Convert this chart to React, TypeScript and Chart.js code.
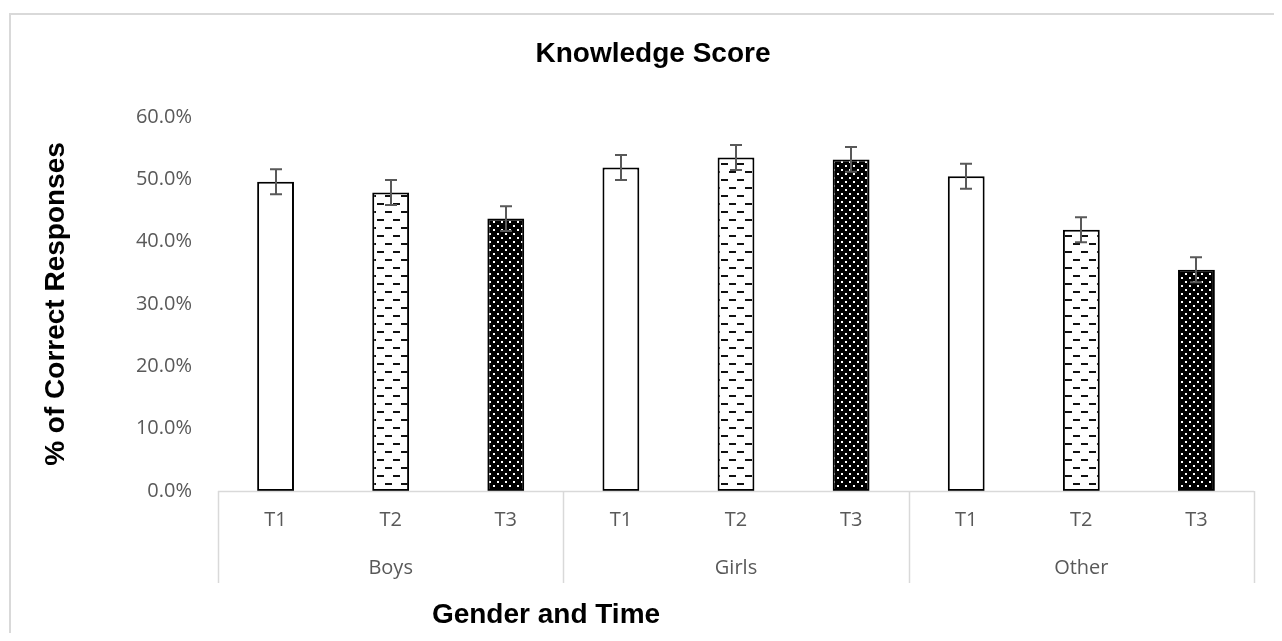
import React, { useEffect, useRef } from 'react';
import { Chart, registerables } from 'chart.js';
Chart.register(...registerables);

const groups = ['Boys', 'Girls', 'Other'];
const times = ['T1', 'T2', 'T3'];
const boysValues = [0.496, 0.479, 0.437];
const girlsValues = [0.519, 0.535, 0.532];
const otherValues = [0.505, 0.419, 0.355];
const boysErrors = [0.02, 0.02, 0.02];
const girlsErrors = [0.02, 0.02, 0.02];
const otherErrors = [0.02, 0.02, 0.02];
const chartTitle = 'Knowledge Score';
const yAxisTitle = '% of Correct Responses';
const xAxisTitle = 'Gender and Time';

const labels = groups.flatMap(() => times);
const values = [...boysValues, ...girlsValues, ...otherValues];
const errors = [...boysErrors, ...girlsErrors, ...otherErrors];

function makePattern(kind: string): any {
  const c = document.createElement('canvas');
  const ctx = c.getContext('2d')!;
  if (kind === 'dash') {
    c.width = 16; c.height = 16;
    ctx.fillStyle = '#ffffff';
    ctx.fillRect(0, 0, 16, 16);
    ctx.fillStyle = '#111111';
    ctx.fillRect(1, 3, 7, 2);
    ctx.fillRect(9, 11, 7, 2);
  } else if (kind === 'dots') {
    c.width = 8; c.height = 8;
    ctx.fillStyle = '#000000';
    ctx.fillRect(0, 0, 8, 8);
    ctx.fillStyle = '#ffffff';
    ctx.fillRect(1, 1, 2, 2);
    ctx.fillRect(5, 5, 2, 2);
  } else {
    c.width = 4; c.height = 4;
    ctx.fillStyle = '#ffffff';
    ctx.fillRect(0, 0, 4, 4);
  }
  return ctx.createPattern(c, 'repeat');
}

const TITLE_FONT = 'bold 28px "Liberation Sans", Arial, sans-serif';
const TICK_FONT = '20px "Open Sans", sans-serif';

const decoPlugin = {
  id: 'deco',
  beforeDraw(chart: any) {
    const ctx = chart.ctx;
    ctx.save();
    ctx.fillStyle = '#ffffff';
    ctx.fillRect(0, 0, chart.width, chart.height);
    ctx.strokeStyle = '#d9d9d9';
    ctx.lineWidth = 2;
    ctx.strokeRect(2, 6, chart.width + 20, chart.height + 20);
    ctx.restore();
  },
  afterDatasetsDraw(chart: any) {
    const ctx = chart.ctx;
    const meta = chart.getDatasetMeta(0);
    const y = chart.scales.y;
    ctx.save();
    ctx.strokeStyle = '#595959';
    ctx.lineWidth = 2;
    meta.data.forEach((bar: any, i: number) => {
      const v = values[i];
      const e = errors[i];
      const top = y.getPixelForValue(v + e);
      const bot = y.getPixelForValue(v - e);
      const x = Math.round(bar.x);
      ctx.beginPath();
      ctx.moveTo(x, top);
      ctx.lineTo(x, bot);
      ctx.moveTo(x - 6, top);
      ctx.lineTo(x + 6, top);
      ctx.moveTo(x - 6, bot);
      ctx.lineTo(x + 6, bot);
      ctx.stroke();
    });
    ctx.restore();
  },
  afterDraw(chart: any) {
    const ctx = chart.ctx;
    const area = chart.chartArea;
    const xs = chart.scales.x;
    ctx.save();
    // axis line and separators
    ctx.strokeStyle = '#d9d9d9';
    ctx.lineWidth = 1.5;
    ctx.beginPath();
    ctx.moveTo(area.left, area.bottom + 0.5);
    ctx.lineTo(area.right, area.bottom + 0.5);
    const bounds = [area.left];
    for (let g = 1; g < groups.length; g++) {
      const a = xs.getPixelForValue(g * times.length - 1);
      const b = xs.getPixelForValue(g * times.length);
      bounds.push((a + b) / 2);
    }
    bounds.push(area.right);
    bounds.forEach((bx) => {
      const px = Math.round(bx) + 0.5;
      ctx.moveTo(px, area.bottom);
      ctx.lineTo(px, area.bottom + 92);
    });
    ctx.stroke();

    // time labels
    ctx.fillStyle = '#595959';
    ctx.font = TICK_FONT;
    ctx.textAlign = 'center';
    ctx.textBaseline = 'middle';
    labels.forEach((lab, i) => {
      ctx.fillText(lab, xs.getPixelForValue(i), area.bottom + 29);
    });
    groups.forEach((g, gi) => {
      const cx = (bounds[gi] + bounds[gi + 1]) / 2;
      ctx.fillText(g, cx, area.bottom + 77);
    });

    // titles
    ctx.fillStyle = '#000000';
    ctx.font = TITLE_FONT;
    ctx.textAlign = 'center';
    ctx.textBaseline = 'alphabetic';
    ctx.fillText(chartTitle, 645, 54);
    ctx.fillText(xAxisTitle, 538, 615);
    ctx.save();
    ctx.translate(56, (area.top + area.bottom) / 2);
    ctx.rotate(-Math.PI / 2);
    ctx.fillText(yAxisTitle, 0, 0);
    ctx.restore();
    ctx.restore();
  },
};

export default function App() {
  const ref = useRef<HTMLCanvasElement>(null);
  useEffect(() => {
    if (!ref.current) return;
    const bg = [
      makePattern('white'), makePattern('dash'), makePattern('dots'),
      makePattern('white'), makePattern('dash'), makePattern('dots'),
      makePattern('white'), makePattern('dash'), makePattern('dots'),
    ];
    const chart = new Chart(ref.current, {
      type: 'bar',
      data: {
        labels,
        datasets: [
          {
            data: values,
            backgroundColor: bg,
            borderColor: '#000000',
            borderWidth: 2,
            borderSkipped: false,
            barPercentage: 0.32,
            categoryPercentage: 1,
          },
        ],
      },
      options: {
        animation: false,
        responsive: false,
        devicePixelRatio: 1,
        layout: { padding: { left: 0, right: 20, top: 109, bottom: 0 } },
        plugins: { legend: { display: false }, tooltip: { enabled: false }, title: { display: false } },
        scales: {
          x: {
            type: 'category',
            offset: true,
            grid: { display: false, drawTicks: false },
            border: { display: false },
            ticks: { display: false },
            afterFit: (s: any) => { s.height = 142; },
          },
          y: {
            min: 0,
            max: 0.6,
            grid: { display: false, drawTicks: false },
            border: { display: false },
            ticks: {
              stepSize: 0.1,
              padding: 26,
              color: '#595959',
              font: { family: '"Open Sans", sans-serif', size: 20 },
              callback: (v: any) => (Number(v) * 100).toFixed(1) + '%',
            },
            afterFit: (s: any) => { s.width = 210; },
          },
        },
      },
      plugins: [decoPlugin],
    });
    return () => chart.destroy();
  }, []);
  return (
    <div style={{ width: 1266, height: 625 }}>
      <canvas ref={ref} width={1266} height={625} style={{ display: 'block' }} />
    </div>
  );
}
